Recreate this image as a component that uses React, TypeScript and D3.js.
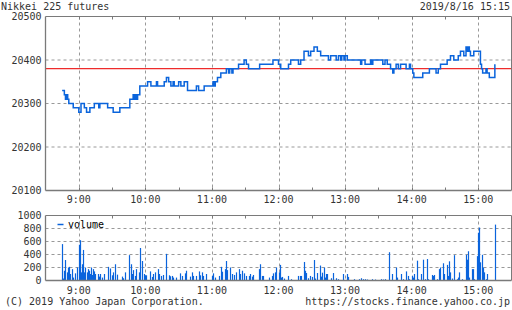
import React from "react";
import * as d3 from "d3";

// ---- data ----
const title = "Nikkei 225 futures";
const stamp = "2019/8/16 15:15";
const footerLeft = "(C) 2019 Yahoo Japan Corporation.";
const footerRight = "https://stocks.finance.yahoo.co.jp";
const prevClose = 20380;

const priceTicks = [20100, 20200, 20300, 20400, 20500];
const volumeTicks = [0, 200, 400, 600, 800, 1000];
const hourLabels = ["9:00", "10:00", "11:00", "12:00", "13:00", "14:00", "15:00"];

const priceTimes = [
  "8:45", "8:47", "8:48", "8:49", "8:50", "8:51", "8:55", "9:00", "9:02", "9:05",
  "9:07", "9:10", "9:14", "9:18", "9:19", "9:26", "9:31", "9:37", "9:46", "9:49",
  "9:50", "9:51", "9:52", "9:53", "9:55", "10:02", "10:05", "10:10", "10:11", "10:17",
  "10:19", "10:21", "10:23", "10:25", "10:26", "10:30", "10:32", "10:35", "10:38", "10:46",
  "10:48", "10:53", "11:01", "11:02", "11:03", "11:05", "11:08", "11:13", "11:15", "11:16",
  "11:18", "11:19", "11:24", "11:29", "11:31", "11:33", "11:43", "11:55", "12:00", "12:02",
  "12:09", "12:11", "12:18", "12:20", "12:23", "12:27", "12:29", "12:32", "12:35", "12:38",
  "12:45", "12:47", "12:52", "12:54", "12:56", "12:57", "12:59", "13:00", "13:02", "13:14",
  "13:15", "13:18", "13:23", "13:24", "13:25", "13:34", "13:36", "13:38", "13:41", "13:43",
  "13:44", "13:46", "13:48", "13:50", "13:55", "13:58", "13:59", "14:01", "14:02", "14:10",
  "14:16", "14:22", "14:24", "14:26", "14:32", "14:35", "14:38", "14:42", "14:44", "14:47",
  "14:49", "14:50", "14:51", "14:52", "14:53", "14:56", "15:02", "15:03", "15:04", "15:07",
  "15:08", "15:10", "15:15",
];
const priceValues = [
  20330, 20320, 20310, 20320, 20310, 20300, 20290, 20280, 20300, 20290,
  20280, 20290, 20300, 20290, 20300, 20290, 20280, 20290, 20310, 20320,
  20310, 20320, 20310, 20320, 20340, 20350, 20340, 20350, 20340, 20350,
  20360, 20350, 20340, 20350, 20340, 20350, 20340, 20350, 20330, 20340,
  20330, 20340, 20350, 20340, 20350, 20360, 20370, 20380, 20370, 20380,
  20370, 20380, 20390, 20400, 20390, 20380, 20390, 20400, 20390, 20380,
  20390, 20400, 20390, 20400, 20420, 20410, 20420, 20430, 20420, 20410,
  20400, 20410, 20400, 20410, 20400, 20410, 20400, 20410, 20400, 20390,
  20400, 20390, 20400, 20390, 20400, 20390, 20400, 20390, 20380, 20370,
  20380, 20390, 20380, 20390, 20380, 20390, 20380, 20370, 20360, 20370,
  20380, 20370, 20380, 20390, 20400, 20410, 20400, 20410, 20420, 20410,
  20430, 20420, 20430, 20420, 20410, 20420, 20390, 20380, 20370, 20380,
  20370, 20360, 20390,
];

// volume: minutes after the 8:45 open, and contracts traded in that minute
const volMinutes = [
  0, 1, 2, 3, 4, 5, 6, 7, 9, 10, 12, 13, 15, 16, 17, 18, 19, 20, 21, 22,
  23, 24, 25, 26, 27, 28, 29, 30, 32, 33, 34, 36, 38, 41, 43, 45, 46, 48, 49, 54,
  55, 57, 60, 62, 63, 64, 66, 67, 69, 70, 72, 74, 75, 76, 79, 81, 82, 84, 86, 87,
  89, 91, 94, 96, 97, 99, 100, 103, 106, 108, 111, 112, 115, 117, 118, 121, 123, 124, 126, 127,
  130, 135, 136, 138, 141, 143, 144, 147, 148, 149, 151, 153, 155, 157, 159, 160, 162, 164, 166, 168,
  169, 171, 172, 177, 178, 180, 181, 186, 189, 190, 192, 193, 195, 196, 197, 198, 200, 204, 206, 213,
  214, 215, 218, 219, 220, 222, 223, 225, 227, 228, 230, 232, 233, 234, 236, 237, 238, 239, 242, 244,
  247, 249, 253, 257, 258, 263, 268, 269, 271, 273, 275, 279, 282, 287, 289, 291, 295, 297, 301, 302,
  305, 307, 310, 312, 313, 315, 316, 317, 320, 321, 323, 325, 327, 329, 330, 333, 334, 335, 338, 340,
  341, 343, 344, 347, 348, 349, 350, 351, 353, 356, 357, 358, 360, 364, 365, 366, 367, 369, 370, 371,
  374, 375, 376, 377, 378, 379, 380, 382, 383, 390,
];
const volValues = [
  560, 30, 150, 315, 125, 200, 210, 100, 175, 45, 110, 200, 550, 620, 125, 250, 470, 125, 200, 125,
  175, 150, 100, 200, 85, 175, 140, 100, 100, 60, 100, 45, 100, 210, 185, 80, 125, 250, 90, 60,
  35, 125, 390, 250, 100, 160, 70, 175, 125, 500, 300, 100, 80, 80, 140, 55, 100, 125, 175, 100,
  70, 85, 410, 80, 65, 70, 45, 45, 110, 70, 110, 150, 60, 125, 70, 70, 140, 80, 125, 70,
  100, 70, 110, 45, 70, 210, 135, 175, 300, 160, 200, 100, 85, 125, 175, 100, 150, 110, 70, 70,
  100, 60, 85, 175, 250, 70, 70, 45, 70, 110, 125, 200, 125, 240, 45, 55, 30, 70, 20, 70,
  70, 70, 285, 150, 115, 35, 70, 55, 315, 30, 115, 230, 60, 120, 200, 45, 100, 100, 35, 115,
  35, 20, 100, 100, 55, 20, 20, 35, 20, 20, 15, 20, 15, 20, 15, 20, 435, 100, 200, 45,
  100, 20, 140, 70, 20, 70, 45, 100, 305, 20, 100, 320, 20, 330, 20, 85, 70, 85, 20, 175,
  200, 265, 100, 240, 70, 295, 125, 30, 390, 20, 45, 125, 20, 395, 320, 450, 45, 175, 175, 20,
  375, 735, 815, 280, 395, 200, 125, 20, 100, 860,
];

// ---- helpers ----
const toMin = (s: string) => {
  const [h, m] = s.split(":").map(Number);
  return h * 60 + m;
};
const OPEN = toMin("8:45");

const W = 512;
const H = 310;
const L = 45.5;
const R = 511.5;
const mainTop = 16.5;
const mainBottom = 190.5;
const volTop = 215.5;
const volBottom = 280.5;

const x = d3.scaleLinear().domain([toMin("8:30"), toMin("15:30")]).range([L, R]);
const yP = d3.scaleLinear().domain([20100, 20500]).range([mainBottom, mainTop]);
const yV = d3.scaleLinear().domain([0, 1000]).range([volBottom, volTop]);

const BLUE = "#0a64dc";
const GRID = "#999";
const AXIS = "#7a7a7a";
const TEXT = "#333";
const FONT = "'DejaVu Sans Mono', monospace";

const halfHours = d3.range(toMin("9:00"), toMin("15:30") + 1, 30);

export default function App() {
  const pricePts: [number, number][] = priceTimes.map((t, i) => [toMin(t), priceValues[i]]);
  const line = d3
    .line<[number, number]>()
    .x((d) => x(d[0]))
    .y((d) => yP(d[1]))
    .curve(d3.curveStepAfter);

  const panel = (top: number, bottom: number, key: string) => (
    <g key={key}>
      {hourLabels.map((h) => (
        <line key={h} x1={Math.round(x(toMin(h))) + 0.5} x2={Math.round(x(toMin(h))) + 0.5} y1={top} y2={bottom}
          stroke={GRID} strokeDasharray="3,3" strokeWidth={1} />
      ))}
      {halfHours.map((m) => (
        <g key={m}>
          <line x1={Math.round(x(m)) + 0.5} x2={Math.round(x(m)) + 0.5} y1={top} y2={top + 3} stroke={AXIS} />
          {bottom === mainBottom && (
            <line x1={Math.round(x(m)) + 0.5} x2={Math.round(x(m)) + 0.5} y1={bottom} y2={bottom - 3} stroke={AXIS} />
          )}
        </g>
      ))}
    </g>
  );

  return (
    <svg width={W} height={H} style={{ position: "absolute", left: 0, top: 0, background: "#fff" }}
      fontFamily={FONT} fontSize={10}>
      <rect width={W} height={H} fill="#fff" />
      <text x={1} y={10} fill={TEXT}>{title}</text>
      <text x={510} y={10} fill={TEXT} textAnchor="end">{stamp}</text>

      {/* main panel */}
      {priceTicks.slice(1, -1).map((v) => (
        <line key={v} x1={L} x2={R} y1={yP(v)} y2={yP(v)} stroke={GRID} strokeDasharray="3,3" />
      ))}
      {panel(mainTop, mainBottom, "mp")}
      <line x1={L} x2={R} y1={yP(prevClose)} y2={yP(prevClose)} stroke="#ee2b2b" strokeWidth={1.2} />
      <path d={line(pricePts) || ""} fill="none" stroke={BLUE} strokeWidth={1.5} />
      <line x1={L} x2={R} y1={mainTop} y2={mainTop} stroke={AXIS} />
      <line x1={R} x2={R} y1={mainTop} y2={mainBottom} stroke={AXIS} />
      <line x1={L} x2={L} y1={mainTop} y2={mainBottom} stroke={AXIS} strokeWidth={1.3} />
      <line x1={L} x2={R} y1={mainBottom} y2={mainBottom} stroke={AXIS} strokeWidth={1.3} />
      {priceTicks.map((v) => (
        <text key={v} x={41.5} y={yP(v) + 3.5} textAnchor="end" fill={TEXT}>{v}</text>
      ))}
      {hourLabels.map((h) => (
        <text key={h} x={x(toMin(h))} y={203} textAnchor="middle" fill={TEXT}>{h}</text>
      ))}

      {/* volume panel */}
      {volumeTicks.slice(1, -1).map((v) => (
        <line key={v} x1={L} x2={R} y1={yV(v)} y2={yV(v)} stroke={GRID} strokeDasharray="3,3" />
      ))}
      {panel(volTop, volBottom, "vp")}
      {volMinutes.map((m, i) => (
        <rect key={m} x={Math.round(x(OPEN + m)) - 0.1} width={1.2} y={yV(volValues[i])}
          height={yV(0) - yV(volValues[i])} fill={BLUE} />
      ))}
      <line x1={L} x2={R} y1={volTop} y2={volTop} stroke={AXIS} />
      <line x1={R} x2={R} y1={volTop} y2={volBottom} stroke={AXIS} />
      <line x1={L} x2={L} y1={volTop} y2={volBottom} stroke={AXIS} strokeWidth={1.3} />
      <line x1={L} x2={R} y1={volBottom} y2={volBottom} stroke={AXIS} strokeWidth={1.3} />
      {volumeTicks.map((v) => (
        <text key={v} x={41.5} y={yV(v) + 3.5} textAnchor="end" fill={TEXT}>{v}</text>
      ))}
      {hourLabels.map((h) => (
        <text key={h} x={x(toMin(h))} y={294} textAnchor="middle" fill={TEXT}>{h}</text>
      ))}
      <line x1={57.5} x2={63.5} y1={224.5} y2={224.5} stroke={BLUE} strokeWidth={1.5} />
      <text x={68} y={228} fill="#000">volume</text>

      <text x={5} y={305} fill={TEXT}>{footerLeft}</text>
      <text x={510} y={305} fill={TEXT} textAnchor="end">{footerRight}</text>
    </svg>
  );
}
